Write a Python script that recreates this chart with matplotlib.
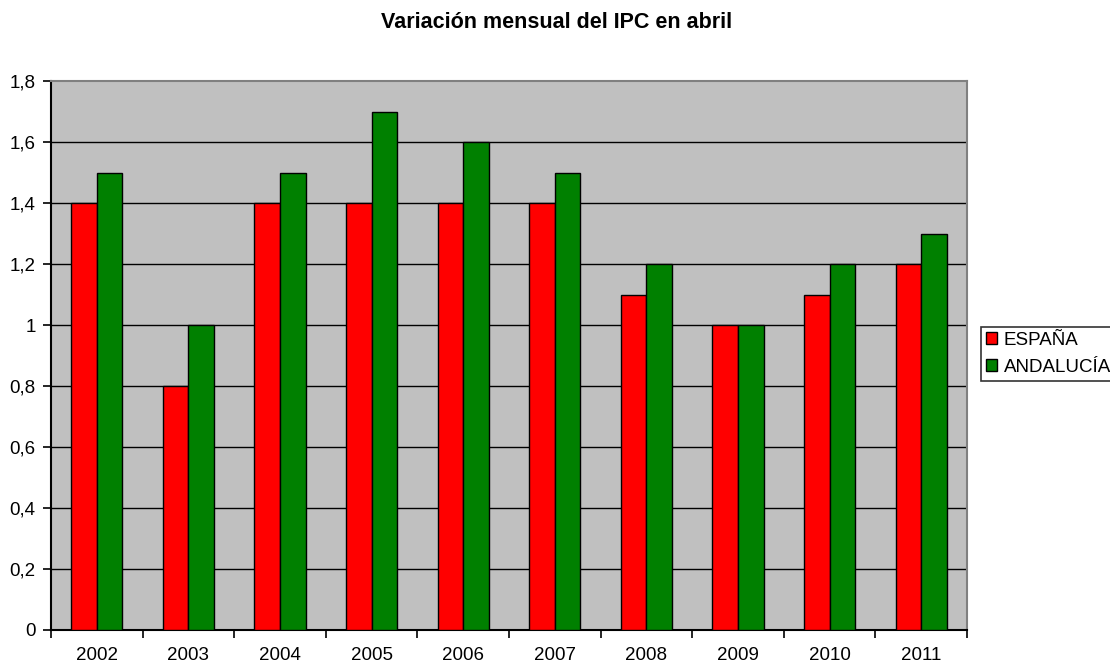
import matplotlib
matplotlib.use("Agg")
import matplotlib.pyplot as plt
import numpy as np

years = ["2002", "2003", "2004", "2005", "2006", "2007", "2008", "2009", "2010", "2011"]
espana = [1.4, 0.8, 1.4, 1.4, 1.4, 1.4, 1.1, 1.0, 1.1, 1.2]
andalucia = [1.5, 1.0, 1.5, 1.7, 1.6, 1.5, 1.2, 1.0, 1.2, 1.3]
yticks = [0, 0.2, 0.4, 0.6, 0.8, 1.0, 1.2, 1.4, 1.6, 1.8]
ytick_labels = ["0", "0,2", "0,4", "0,6", "0,8", "1", "1,2", "1,4", "1,6", "1,8"]

plt.rcParams['font.family'] = ['Liberation Sans', 'DejaVu Sans']

fig = plt.figure(figsize=(11.1, 6.66), dpi=100)
ax = fig.add_axes([51/1110, 1 - 630/666, (967-51)/1110, (630-81)/666])
ax.set_facecolor('#C0C0C0')

x = np.arange(len(years))
w = 0.28
ax.bar(x - w/2, espana, w, color='#FF0000', edgecolor='black', linewidth=1, label='ESPAÑA', zorder=3)
ax.bar(x + w/2, andalucia, w, color='#008000', edgecolor='black', linewidth=1, label='ANDALUCÍA', zorder=3)

ax.set_xlim(-0.5, len(years) - 0.5)
ax.set_ylim(0, 1.8)
ax.set_yticks(yticks)
ax.set_yticklabels(ytick_labels, fontsize=13.5)
for yv in yticks[1:-1]:
    ax.axhline(yv, color='black', linewidth=1, zorder=1)

ax.set_xticks(np.arange(len(years) + 1) - 0.5)
ax.set_xticklabels([])
ax.set_xticks(x, minor=True)
ax.set_xticklabels(years, minor=True, fontsize=13.5)
ax.tick_params(axis='x', which='minor', length=0, pad=12)
ax.tick_params(axis='x', which='major', length=6, width=1.2, direction='out', color='black')
ax.tick_params(axis='y', length=6, width=1.2, direction='out', pad=5)

ax.spines['left'].set_color('black')
ax.spines['left'].set_linewidth(1.5)
ax.spines['bottom'].set_color('black')
ax.spines['bottom'].set_linewidth(1.5)
ax.spines['top'].set_color('#808080')
ax.spines['top'].set_linewidth(1.5)
ax.spines['right'].set_color('#808080')
ax.spines['right'].set_linewidth(1.5)

fig.text(557/1110, 1 - 22/666, 'Variación mensual del IPC en abril', ha='center', va='center',
         fontsize=15.5, fontweight='bold')

leg = fig.legend(loc='upper left', bbox_to_anchor=(981/1110, 1 - 327/666), fontsize=13.5,
                 frameon=True, fancybox=False, edgecolor='black', handlelength=0.6,
                 handleheight=0.6, handletextpad=0.35, borderpad=0.25, labelspacing=0.55,
                 borderaxespad=0)
leg.get_frame().set_linewidth(1.2)

fig.savefig('out.png', dpi=100)
